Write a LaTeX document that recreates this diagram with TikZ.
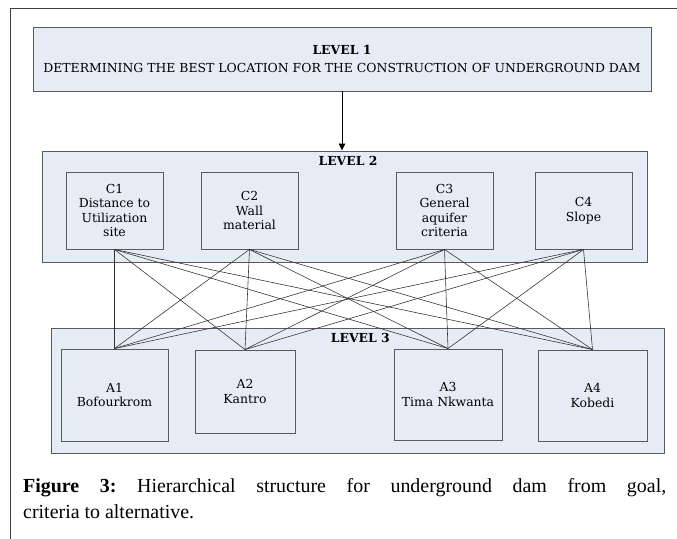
\documentclass[tikz,border=0pt]{standalone}
\usepackage{fontspec}
\setmainfont{DejaVu Serif}
\newfontfamily\capfont{Liberation Serif}
\usetikzlibrary{positioning,arrows.meta}
\definecolor{LevelFill}{HTML}{E6ECF6}
\definecolor{LevelEdge}{HTML}{5A5A5A}
\newcommand{\pxu}{0.03cm}

\begin{document}
\begin{tikzpicture}[x=0.03cm, y=-0.03cm, every node/.style={font=\fontsize{10.6}{12.5}\selectfont}]
    \tikzstyle{panel}=[draw=LevelEdge, fill=LevelFill, line width=0.75pt, inner sep=0pt]
    \tikzstyle{crit}=[panel, align=center, minimum width=97*\pxu, minimum height=77*\pxu]
    \tikzstyle{head}=[font=\fontsize{10.6}{12}\selectfont\bfseries, inner sep=0pt]
    \tikzstyle{link}=[line width=0.5pt, draw=black!80]

    \useasboundingbox (0,0) rectangle (677,539);
    \draw[line width=0.8pt, draw=black!75] (10,539) -- (10,8) -- (677,8);

    % level 1
    \node[panel, align=center, minimum width=618*\pxu, minimum height=64*\pxu] (goal) at (342,59)
        {\textbf{LEVEL 1}\\[2.5pt] DETERMINING THE BEST LOCATION FOR THE CONSTRUCTION OF UNDERGROUND DAM};

    % level 2
    \node[panel, minimum width=605*\pxu, minimum height=111*\pxu] (lvl2) at (344.5,206.5) {};
    \node[head, below=5pt of lvl2.north, xshift=3pt] (lvl2head) {LEVEL 2};
    \node[crit] (c1) at (114.5,210.5) {C1\\ Distance to\\ Utilization\\ site};
    \node[crit] (c2) at (249.5,210.5) {C2\\ Wall\\ material};
    \node[crit] (c3) at (444.5,210.5) {C3\\ General\\ aquifer\\ criteria};
    \node[crit] (c4) at (583.5,210.5) {C4\\ Slope};

    % level 3
    \node[panel, minimum width=613*\pxu, minimum height=125*\pxu] (lvl3) at (358,391) {};
    \node[head, below=4.5pt of lvl3.north, xshift=2pt] (lvl3head) {LEVEL 3};
    \node[panel, align=center, minimum width=107*\pxu, minimum height=92*\pxu] (a1) at (114.5,395) {A1\\ Bofourkrom};
    \node[panel, align=center, minimum width=100*\pxu, minimum height=83*\pxu] (a2) at (245,391.5) {A2\\ Kantro};
    \node[panel, align=center, minimum width=108*\pxu, minimum height=91*\pxu] (a3) at (448,394.5) {A3\\ Tima Nkwanta};
    \node[panel, align=center, minimum width=109*\pxu, minimum height=91*\pxu] (a4) at (592.5,395.5) {A4\\ Kobedi};

    \draw[line width=0.8pt, -{Triangle[length=6pt,width=5.5pt]}] (goal.south) -- (goal.south |- lvl2.north);
    \foreach \c in {1,...,4}
        \foreach \a in {1,...,4}
            \draw[link] (c\c.south) -- (a\a.north);

    % caption
    \node[anchor=north west, inner sep=0pt, text width=643*\pxu, align=justify,
          font=\capfont\fontsize{17}{22.5}\selectfont\frenchspacing] (caption) at (23,478)
        {\textbf{Figure 3:} Hierarchical structure for underground dam from goal,\linebreak criteria to alternative.};
\end{tikzpicture}
\end{document}
